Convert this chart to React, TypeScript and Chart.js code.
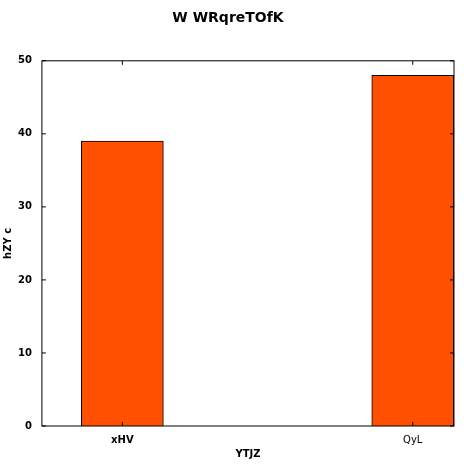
import React, { useEffect, useRef } from 'react';
import Chart from 'chart.js/auto';

const categories = ['xHV', 'QyL'];
const values = [39, 48];
const yTicks = [0, 10, 20, 30, 40, 50];

const frame = {
  id: 'frame',
  afterDraw(chart: any) {
    const { ctx, chartArea: a, scales } = chart;
    ctx.save();
    ctx.strokeStyle = '#000';
    ctx.lineWidth = 1;
    ctx.strokeRect(a.left, a.top, a.right - a.left, a.bottom - a.top);
    ctx.beginPath();
    yTicks.forEach((v) => {
      const y = scales.y.getPixelForValue(v);
      ctx.moveTo(a.left, y); ctx.lineTo(a.left + 4, y);
      ctx.moveTo(a.right, y); ctx.lineTo(a.right - 4, y);
    });
    categories.forEach((_, i) => {
      const x = scales.x.getPixelForValue(i);
      ctx.moveTo(x, a.bottom); ctx.lineTo(x, a.bottom - 4);
      ctx.moveTo(x, a.top); ctx.lineTo(x, a.top + 4);
    });
    ctx.stroke();
    ctx.restore();
  },
};

const App: React.FC = () => {
  const canvasRef = useRef<HTMLCanvasElement>(null);
  const chartRef = useRef<Chart | null>(null);

  useEffect(() => {
    document.body.style.margin = '0';
    if (chartRef.current) chartRef.current.destroy();
    if (canvasRef.current) {
      chartRef.current = new Chart(canvasRef.current, {
        type: 'bar',
        data: {
          datasets: [
            {
              data: values.map((v, i) => ({ x: i, y: v })),
              backgroundColor: '#FF4F00',
              borderColor: '#000',
              borderWidth: 1,
              barThickness: 82,
            },
          ],
        },
        plugins: [frame],
        options: {
          responsive: false,
          animation: false,
          layout: { padding: { top: 10, right: 10, bottom: 4, left: 2 } },
          plugins: {
            legend: { display: false },
            tooltip: { enabled: false },
            title: {
              display: true,
              text: 'W WRqreTOfK',
              color: '#000',
              font: { family: 'DejaVu Sans', size: 14, weight: 'bold' },
              padding: { top: 0, bottom: 34 },
            },
          },
          scales: {
            x: {
              type: 'linear',
              offset: false,
              min: -0.277,
              max: 1.142,
              grid: { display: false, offset: false },
              border: { display: false },
              afterBuildTicks: (s: any) => {
                s.ticks = categories.map((_, i) => ({ value: i }));
              },
              ticks: {
                color: '#000',
                padding: 0,
                maxRotation: 0,
                callback: (v: any) => categories[v] ?? '',
                font: (c: any) => ({
                  family: 'DejaVu Sans',
                  size: 10,
                  weight: c.index === 0 ? 'bold' : 'normal',
                }),
              },
              title: {
                display: true,
                text: 'YTJZ',
                color: '#000',
                font: { family: 'DejaVu Sans', size: 10, weight: 'bold' },
                padding: { top: 2, bottom: 0 },
              },
            },
            y: {
              min: 0,
              max: 50,
              grid: { display: false },
              border: { display: false },
              afterBuildTicks: (s: any) => {
                s.ticks = yTicks.map((v) => ({ value: v }));
              },
              ticks: {
                color: '#000',
                padding: 2,
                font: { family: 'DejaVu Sans', size: 10, weight: 'bold' },
              },
              title: {
                display: true,
                text: 'hZY c',
                color: '#000',
                font: { family: 'DejaVu Sans', size: 10, weight: 'bold' },
                padding: { top: 0, bottom: 2 },
              },
            },
          },
        },
      });
    }
    return () => {
      if (chartRef.current) {
        chartRef.current.destroy();
        chartRef.current = null;
      }
    };
  }, []);

  return <canvas ref={canvasRef} width={464} height={464} style={{ display: 'block' }} />;
};

export default App;
